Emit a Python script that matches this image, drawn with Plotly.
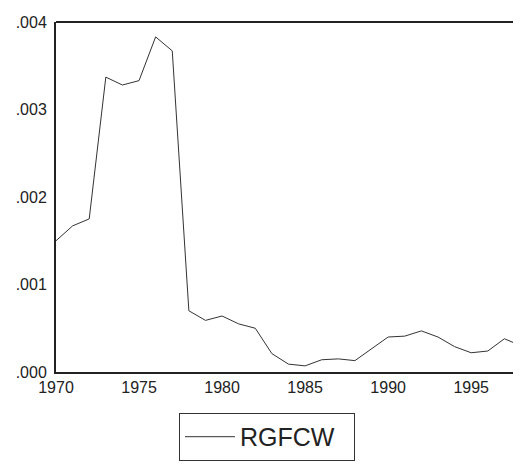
import plotly.graph_objects as go

years = list(range(1970, 1999))
rgfcw = [0.00150, 0.00167, 0.00175, 0.00337, 0.00328, 0.00333, 0.00383, 0.00367,
         0.00070, 0.00059, 0.00064, 0.00055, 0.00050, 0.00021, 0.00009, 0.00007,
         0.00014, 0.00015, 0.00013, 0.00026, 0.00040, 0.00041, 0.00047, 0.00040,
         0.00029, 0.00022, 0.00024, 0.00038, 0.00030]
y_tickvals = [0, 0.001, 0.002, 0.003, 0.004]
y_ticktext = [".000", ".001", ".002", ".003", ".004"]
x_tickvals = [1970, 1975, 1980, 1985, 1990, 1995]

fig = go.Figure()
fig.add_trace(go.Scatter(x=years, y=rgfcw, mode="lines", name="RGFCW",
                         line=dict(color="#333333", width=1)))

fig.update_layout(
    width=513, height=458,
    margin=dict(l=48, r=0, t=14, b=94, autoexpand=False),
    paper_bgcolor="white", plot_bgcolor="white",
    font=dict(family="Liberation Sans, Arial, sans-serif", size=16, color="#222222"),
    showlegend=True,
    legend=dict(x=0.2645, xanchor="left", y=-0.117, yanchor="top",
                orientation="h", entrywidth=109, entrywidthmode="pixels",
                itemwidth=50,
                bordercolor="#333333", borderwidth=1,
                font=dict(size=25, color="#222222"), bgcolor="white"),
)
fig.update_xaxes(range=[1970, 1998], tickvals=x_tickvals, showgrid=False,
                 showline=True, linecolor="#222222", linewidth=2, mirror=False,
                 ticks="", zeroline=False, automargin=False)
fig.update_yaxes(range=[0, 0.004], tickvals=y_tickvals, ticktext=y_ticktext,
                 showgrid=False, showline=True, linecolor="#222222", linewidth=2,
                 mirror=False, ticks="", zeroline=False, ticklabelstandoff=4,
                 automargin=False)
# top frame line
fig.add_shape(type="line", xref="paper", yref="paper", x0=0, x1=1, y0=1, y1=1,
              line=dict(color="#222222", width=2))

fig.write_html("out.html")
